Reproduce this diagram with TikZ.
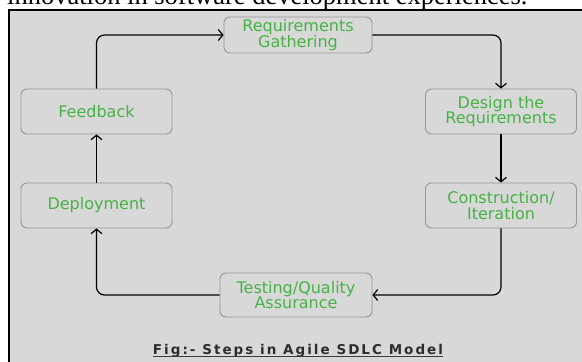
\documentclass[tikz,border=0pt]{standalone}
\usepackage{fontspec}
\usetikzlibrary{arrows.meta}
\newfontfamily\boxfont{DejaVu Sans}
\newfontfamily\capfont{DejaVu Sans Bold}[LetterSpace=15]
\newfontfamily\topfont{Liberation Serif}
\definecolor{stepgreen}{RGB}{70,178,70}
\definecolor{bggray}{RGB}{216,216,216}
\definecolor{boxedge}{RGB}{150,150,150}
\begin{document}
\begin{tikzpicture}[x=1pt,y=-1pt,
  stepbox/.style={draw=boxedge, line width=0.9pt, rounded corners=6pt, fill=bggray,
    minimum width=151pt, minimum height=45pt, align=center, inner sep=2pt,
    text=stepgreen, font={\boxfont\fontsize{16}{15.5}\selectfont}},
  flow/.style={draw=black, line width=1.2pt, rounded corners=8pt,
    -{Straight Barb[length=4.5pt,width=11pt,line width=1.2pt]}}]
\useasboundingbox (0,0) rectangle (582,362);
\fill[white] (0,0) rectangle (582,362);
\fill[bggray] (9,10) rectangle (582,362);
\draw[line width=1.4pt] (8,10) -- (582,10);
\draw[line width=2.8pt] (9,10) -- (9,362);
\node[anchor=base west, inner sep=0pt, font={\topfont\fontsize{26.5}{28}\selectfont}] (toptext) at (7,4) {innovation in software development experiences.};
\node[stepbox, minimum width=148pt, minimum height=36pt] (req) at (298,35) {Requirements\\Gathering};
\node[stepbox] (design) at (501,111.5) {Design the\\Requirements};
\node[stepbox] (constr) at (501,205.5) {Construction/\\Iteration};
\node[stepbox, minimum width=152pt, minimum height=44pt] (test) at (296,295) {Testing/Quality\\Assurance};
\node[stepbox] (deploy) at (96.5,205.5) {Deployment};
\node[stepbox] (feed) at (96.5,111.5) {Feedback};
\coordinate (c1) at (96.5,35);
\coordinate (c2) at (501,35);
\coordinate (c3) at (501,295);
\coordinate (c4) at (96.5,295);
\draw[flow] (feed.north) -- (c1) -- (req.west);
\draw[flow] (req.east) -- (c2) -- (design.north);
\draw[flow] (design.south) -- (constr.north);
\draw[flow] (constr.south) -- (c3) -- (test.east);
\draw[flow] (test.west) -- (c4) -- (deploy.south);
\draw[flow] (deploy.north) -- (feed.south);
\node[inner sep=0pt, anchor=base, text={rgb,255:red,45;green,45;blue,45},
  font={\capfont\fontsize{13.5}{15}\selectfont}] (cap) at (298,354) {Fig:- Steps in Agile SDLC Model};
\draw[line width=0.9pt, color={rgb,255:red,60;green,60;blue,60}] ([yshift=-2.5pt]cap.base west) -- ([yshift=-2.5pt]cap.base east);
\end{tikzpicture}
\end{document}
